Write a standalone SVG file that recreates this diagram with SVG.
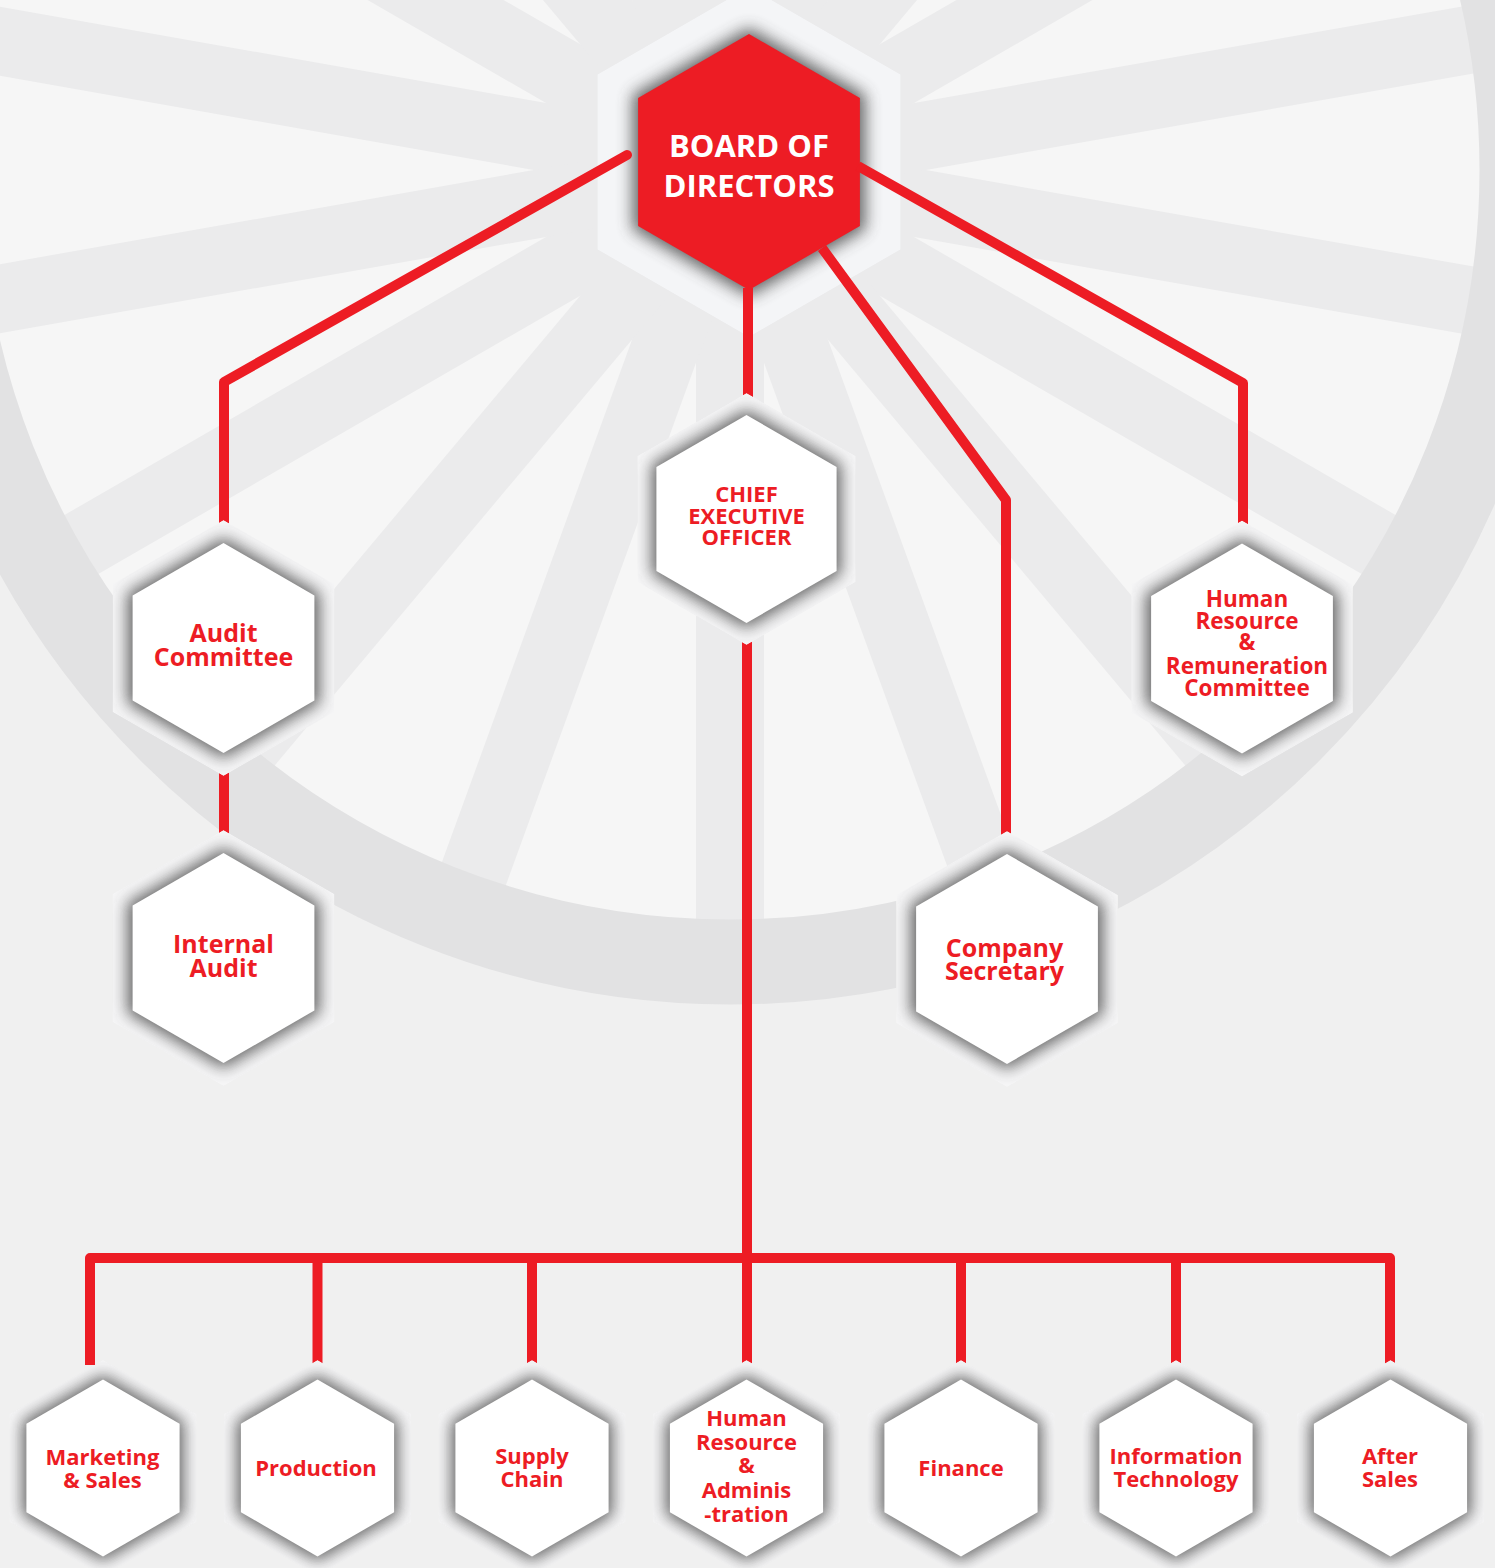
<svg xmlns="http://www.w3.org/2000/svg" width="1495" height="1568" viewBox="0 0 1495 1568">
<style>
.t{font-family:"Open Sans","Liberation Sans",sans-serif;font-weight:700;fill:#ed1c24;text-anchor:middle}
.tw{fill:#ffffff}
.frame{fill:#f5f5f6}
.shade{fill:#4a4a4a;opacity:0.85;filter:url(#blur)}
.white{fill:#ffffff}
.con{fill:none;stroke:#ed1c24;stroke-width:10;stroke-linejoin:round}
.band{fill:#ebebec}
</style>
<defs>
<filter id="blur" x="-30%" y="-30%" width="160%" height="160%"><feGaussianBlur stdDeviation="8"/></filter>
<clipPath id="hexclip" clipPathUnits="objectBoundingBox"><polygon points="0.5,0 1,0.25 1,0.75 0.5,1 0,0.75 0,0.25"/></clipPath>
<clipPath id="disk"><circle cx="730" cy="170" r="752"/></clipPath>
</defs>

<!-- background -->
<rect x="0" y="0" width="1495" height="1568" fill="#f0f0f0"/>
<circle cx="730" cy="170" r="752" fill="#f6f6f6"/>
<g clip-path="url(#disk)">
<g transform="translate(730 170)">
<rect class="band" x="-1100" y="-34" width="2200" height="68" transform="rotate(10)"/>
<rect class="band" x="-1100" y="-34" width="2200" height="68" transform="rotate(30)"/>
<rect class="band" x="-1100" y="-34" width="2200" height="68" transform="rotate(50)"/>
<rect class="band" x="-1100" y="-34" width="2200" height="68" transform="rotate(70)"/>
<rect class="band" x="-1100" y="-34" width="2200" height="68" transform="rotate(90)"/>
<rect class="band" x="-1100" y="-34" width="2200" height="68" transform="rotate(110)"/>
<rect class="band" x="-1100" y="-34" width="2200" height="68" transform="rotate(130)"/>
<rect class="band" x="-1100" y="-34" width="2200" height="68" transform="rotate(150)"/>
<rect class="band" x="-1100" y="-34" width="2200" height="68" transform="rotate(170)"/>
</g>
</g>
<circle cx="730" cy="170" r="792" fill="none" stroke="#e2e2e3" stroke-width="85"/>

<!-- Board of Directors -->
<g id="board">
<g clip-path="url(#hexclip)">
<polygon points="749,-13 900.6,74.5 900.6,249.5 749,337 597.4,249.5 597.4,74.5" fill="#f4f5f7"/>
<polygon class="shade" points="749,28 865.2,95 865.2,229 749,296 632.8,229 632.8,95"/>
</g>
<polygon points="749,34 859.9,98 859.9,226 749,290 638.1,226 638.1,98" fill="#ed1c24"/>
<text class="t tw" x="749" y="157" font-size="31">BOARD OF</text>
<text class="t tw" x="749" y="197" font-size="31">DIRECTORS</text>
</g>

<!-- connectors -->
<g id="connectors">
<path class="con" d="M627,155 L224,382 L224,525" stroke-linecap="round"/>
<path class="con" d="M858,166 L1243,383 L1243,525"/>
<path class="con" d="M748,288 L748,400"/>
<path class="con" d="M822,248 L1006,500 L1006,845"/>
<path class="con" d="M224,770 L224,835"/>
<path class="con" d="M747,640 L747,1365"/>
<path class="con" d="M90,1365 L90,1258 L1390,1258 L1390,1365"/>
<path class="con" d="M317.5,1258 L317.5,1365"/>
<path class="con" d="M532,1258 L532,1365"/>
<path class="con" d="M961,1258 L961,1365"/>
<path class="con" d="M1176,1258 L1176,1365"/>
</g>

<!-- CEO -->
<g id="ceo">
<g clip-path="url(#hexclip)">
<polygon class="frame" points="746.5,393 855.6,456 855.6,582 746.5,645 637.4,582 637.4,456"/>
<polygon class="shade" points="746.5,410 841,464.5 841,573.5 746.5,628 652,573.5 652,464.5"/>
</g>
<polygon class="white" points="746.5,415 836.6,467 836.6,571 746.5,623 656.4,571 656.4,467"/>
<text class="t" x="746.5" y="502" font-size="22">CHIEF</text>
<text class="t" x="746.5" y="523.5" font-size="22">EXECUTIVE</text>
<text class="t" x="746.5" y="545" font-size="22">OFFICER</text>
</g>

<!-- Audit Committee -->
<g id="audit-committee">
<g clip-path="url(#hexclip)">
<polygon class="frame" points="223.5,520 334.4,584 334.4,712 223.5,776 112.6,712 112.6,584"/>
<polygon class="shade" points="223.5,538 319.6,593.5 319.6,702.5 223.5,758 127.4,702.5 127.4,593.5"/>
</g>
<polygon class="white" points="223.5,543 314.4,595.5 314.4,700.5 223.5,753 132.6,700.5 132.6,595.5"/>
<text class="t" x="223.5" y="642" font-size="25">Audit</text>
<text class="t" x="223.5" y="666" font-size="25">Committee</text>
</g>

<!-- Internal Audit -->
<g id="internal-audit">
<g clip-path="url(#hexclip)">
<polygon class="frame" points="223.5,830 334.4,894 334.4,1022 223.5,1086 112.6,1022 112.6,894"/>
<polygon class="shade" points="223.5,848 319.6,903.5 319.6,1012.5 223.5,1068 127.4,1012.5 127.4,903.5"/>
</g>
<polygon class="white" points="223.5,853 314.4,905.5 314.4,1010.5 223.5,1063 132.6,1010.5 132.6,905.5"/>
<text class="t" x="223.5" y="953" font-size="25">Internal</text>
<text class="t" x="223.5" y="977" font-size="25">Audit</text>
</g>

<!-- HR & Remuneration Committee -->
<g id="hr-remuneration">
<g clip-path="url(#hexclip)">
<polygon class="frame" points="1242,520.5 1352.9,584.5 1352.9,712.5 1242,776.5 1131.1,712.5 1131.1,584.5"/>
<polygon class="shade" points="1242,538.5 1338.1,594 1338.1,703 1242,758.5 1145.9,703 1145.9,594"/>
</g>
<polygon class="white" points="1242,543.5 1332.9,596 1332.9,701 1242,753.5 1151.1,701 1151.1,596"/>
<text class="t" x="1247" y="607" font-size="22.5">Human</text>
<text class="t" x="1247" y="629" font-size="22.5">Resource</text>
<text class="t" x="1247" y="650" font-size="22.5">&amp;</text>
<text class="t" x="1247" y="674" font-size="22.5">Remuneration</text>
<text class="t" x="1247" y="696" font-size="22.5">Committee</text>
</g>

<!-- Company Secretary -->
<g id="company-secretary">
<g clip-path="url(#hexclip)">
<polygon class="frame" points="1007,831 1117.9,895 1117.9,1023 1007,1087 896.1,1023 896.1,895"/>
<polygon class="shade" points="1007,849 1103.1,904.5 1103.1,1013.5 1007,1069 910.9,1013.5 910.9,904.5"/>
</g>
<polygon class="white" points="1007,854 1097.9,906.5 1097.9,1011.5 1007,1064 916.1,1011.5 916.1,906.5"/>
<text class="t" x="1004.5" y="957" font-size="25">Company</text>
<text class="t" x="1004.5" y="980" font-size="25">Secretary</text>
</g>

<!-- bottom row -->
<g id="marketing-sales">
<g clip-path="url(#hexclip)">
<polygon class="frame" points="103,1360 196.5,1414 196.5,1522 103,1576 9.5,1522 9.5,1414"/>
<polygon class="shade" points="103,1375 183.5,1421.5 183.5,1514.5 103,1561 22.5,1514.5 22.5,1421.5"/>
</g>
<polygon class="white" points="103,1379.5 179.6,1423.8 179.6,1512.3 103,1556.5 26.4,1512.3 26.4,1423.8"/>
<text class="t" x="102.5" y="1465" font-size="22">Marketing</text>
<text class="t" x="102.5" y="1488" font-size="22">&amp; Sales</text>
</g>

<g id="production">
<g clip-path="url(#hexclip)">
<polygon class="frame" points="317.5,1360 411,1414 411,1522 317.5,1576 224,1522 224,1414"/>
<polygon class="shade" points="317.5,1375 398,1421.5 398,1514.5 317.5,1561 237,1514.5 237,1421.5"/>
</g>
<polygon class="white" points="317.5,1379.5 394.1,1423.8 394.1,1512.3 317.5,1556.5 240.9,1512.3 240.9,1423.8"/>
<text class="t" x="316" y="1476" font-size="22">Production</text>
</g>

<g id="supply-chain">
<g clip-path="url(#hexclip)">
<polygon class="frame" points="532,1360 625.5,1414 625.5,1522 532,1576 438.5,1522 438.5,1414"/>
<polygon class="shade" points="532,1375 612.5,1421.5 612.5,1514.5 532,1561 451.5,1514.5 451.5,1421.5"/>
</g>
<polygon class="white" points="532,1379.5 608.6,1423.8 608.6,1512.3 532,1556.5 455.4,1512.3 455.4,1423.8"/>
<text class="t" x="532" y="1464" font-size="22">Supply</text>
<text class="t" x="532" y="1487" font-size="22">Chain</text>
</g>

<g id="hr-administration">
<g clip-path="url(#hexclip)">
<polygon class="frame" points="746.5,1360 840,1414 840,1522 746.5,1576 653,1522 653,1414"/>
<polygon class="shade" points="746.5,1375 827,1421.5 827,1514.5 746.5,1561 666,1514.5 666,1421.5"/>
</g>
<polygon class="white" points="746.5,1379.5 823.1,1423.8 823.1,1512.3 746.5,1556.5 669.9,1512.3 669.9,1423.8"/>
<text class="t" x="746.5" y="1426" font-size="22">Human</text>
<text class="t" x="746.5" y="1450" font-size="22">Resource</text>
<text class="t" x="746.5" y="1473" font-size="22">&amp;</text>
<text class="t" x="746.5" y="1498" font-size="22">Adminis</text>
<text class="t" x="746.5" y="1522" font-size="22">-tration</text>
</g>

<g id="finance">
<g clip-path="url(#hexclip)">
<polygon class="frame" points="961,1360 1054.5,1414 1054.5,1522 961,1576 867.5,1522 867.5,1414"/>
<polygon class="shade" points="961,1375 1041.5,1421.5 1041.5,1514.5 961,1561 880.5,1514.5 880.5,1421.5"/>
</g>
<polygon class="white" points="961,1379.5 1037.6,1423.8 1037.6,1512.3 961,1556.5 884.4,1512.3 884.4,1423.8"/>
<text class="t" x="961" y="1476" font-size="22">Finance</text>
</g>

<g id="information-technology">
<g clip-path="url(#hexclip)">
<polygon class="frame" points="1176,1360 1269.5,1414 1269.5,1522 1176,1576 1082.5,1522 1082.5,1414"/>
<polygon class="shade" points="1176,1375 1256.5,1421.5 1256.5,1514.5 1176,1561 1095.5,1514.5 1095.5,1421.5"/>
</g>
<polygon class="white" points="1176,1379.5 1252.6,1423.8 1252.6,1512.3 1176,1556.5 1099.4,1512.3 1099.4,1423.8"/>
<text class="t" x="1176" y="1464" font-size="22">Information</text>
<text class="t" x="1176" y="1487" font-size="22">Technology</text>
</g>

<g id="after-sales">
<g clip-path="url(#hexclip)">
<polygon class="frame" points="1390.5,1360 1484,1414 1484,1522 1390.5,1576 1297,1522 1297,1414"/>
<polygon class="shade" points="1390.5,1375 1471,1421.5 1471,1514.5 1390.5,1561 1310,1514.5 1310,1421.5"/>
</g>
<polygon class="white" points="1390.5,1379.5 1467.1,1423.8 1467.1,1512.3 1390.5,1556.5 1313.9,1512.3 1313.9,1423.8"/>
<text class="t" x="1390" y="1464" font-size="22">After</text>
<text class="t" x="1390" y="1487" font-size="22">Sales</text>
</g>
</svg>
